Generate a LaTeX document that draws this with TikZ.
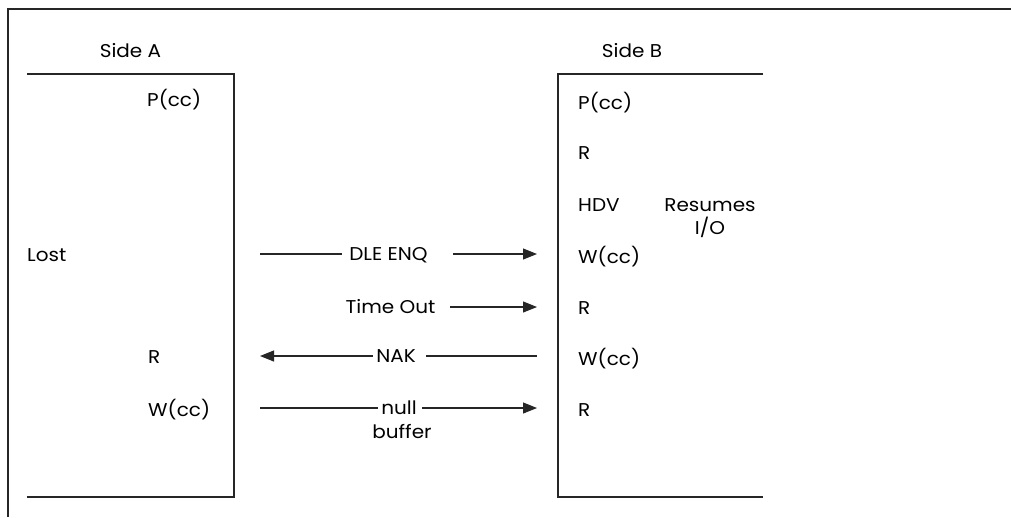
\documentclass[tikz,border=0pt]{standalone}
\usepackage{fontspec}
\setmainfont{Poppins}[FakeStretch=1.08]
\usetikzlibrary{arrows.meta}
\begin{document}
\begin{tikzpicture}[x=1pt,y=-1pt,
  lbl/.style={inner sep=0pt, font=\fontsize{18.5}{21}\selectfont},
  lw/.style={lbl, anchor=base west},
  lc/.style={lbl, anchor=base},
  ln/.style={line width=1.1pt, draw=black!85},
  arr/.style={ln, -{Triangle[length=14pt,width=11pt]}}]
\useasboundingbox (0,0) rectangle (1011,517);
% frame
\draw[ln] (8,517) -- (8,9) -- (1011,9);
% side boxes
\draw[ln] (27,74) -- (234,74) -- (234,497) -- (27,497);
\draw[ln] (763,74) -- (558,74) -- (558,497) -- (763,497);
% titles
\node[lc] (sa) at (130.5,57.5) {Side A};
\node[lc] (sb) at (632,57.5) {Side B};
% side A labels
\node[lw] (a1) at (147,106) {P(cc)};
\node[lw] (a2) at (27,261) {Lost};
\node[lw] (a3) at (148,363) {R};
\node[lw] (a4) at (148,416) {W(cc)};
% side B labels
\node[lw] (b1) at (578,109) {P(cc)};
\node[lw] (b2) at (578,159) {R};
\node[lw] (b3) at (578,211) {HDV};
\node[lw] (b4) at (578,263) {W(cc)};
\node[lw] (b5) at (578,314) {R};
\node[lw] (b6) at (578,365) {W(cc)};
\node[lw] (b7) at (578,416) {R};
\node[lc] (res) at (710,211) {Resumes};
\node[lc] (io) at (710,234) {I/O};
% message labels
\node[lc] (dle) at (388.5,260) {DLE ENQ};
\node[lc] (to) at (390.5,313) {Time Out};
\node[lc] (nak) at (396,362) {NAK};
\node[lc] (nul) at (399,414) {null};
\node[lc] (buf) at (402,438) {buffer};
% connector ends
\coordinate (d1) at (260,254); \coordinate (d2) at (342,254);
\coordinate (d3) at (453,254); \coordinate (d4) at (537,254);
\coordinate (t1) at (450,307); \coordinate (t2) at (537,307);
\coordinate (n1) at (537,356); \coordinate (n2) at (426,356);
\coordinate (n3) at (373,356); \coordinate (n4) at (260,356);
\coordinate (u1) at (260,408); \coordinate (u2) at (378,408);
\coordinate (u3) at (422,408); \coordinate (u4) at (537,408);
% connectors
\draw[ln] (d1) -- (d2);
\draw[arr] (d3) -- (d4);
\draw[arr] (t1) -- (t2);
\draw[ln] (n1) -- (n2);
\draw[arr] (n3) -- (n4);
\draw[ln] (u1) -- (u2);
\draw[arr] (u3) -- (u4);
\end{tikzpicture}
\end{document}
